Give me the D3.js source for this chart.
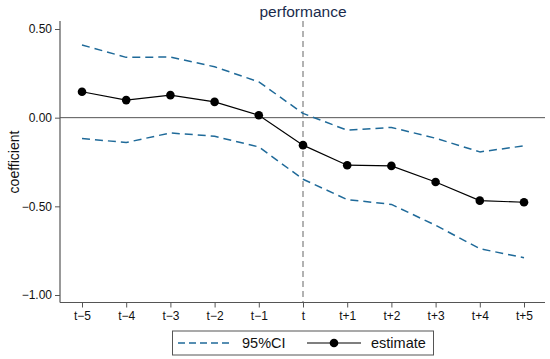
<!DOCTYPE html>
<html><head><meta charset="utf-8">
<script src="https://cdn.jsdelivr.net/npm/d3@7"></script>
<style>body{margin:0;background:#fff}svg{display:block}text{font-family:Arial,"Liberation Sans",sans-serif}</style>
</head><body><svg id="c" width="550" height="359"></svg>
<script>
const categories = ["t\u22125","t\u22124","t\u22123","t\u22122","t\u22121","t","t+1","t+2","t+3","t+4","t+5"];
const estimate = [0.146,0.099,0.127,0.089,0.014,-0.155,-0.268,-0.272,-0.363,-0.468,-0.477];
const upperCI = [0.410,0.340,0.342,0.287,0.202,0.024,-0.071,-0.055,-0.116,-0.193,-0.159];
const lowerCI = [-0.118,-0.140,-0.086,-0.105,-0.165,-0.347,-0.462,-0.489,-0.607,-0.739,-0.790];
const yTicks = [0.5,0,-0.5,-1];
const yTickLabels = ["0.50","0.00","\u22120.50","\u22121.00"];

const svg = d3.select("#c");
const L=60,R=545,T=21,B=302.5;
const x = d3.scalePoint().domain(categories).range([82,524]);
const y = d3.scaleLinear().domain([-1,0.5]).range([295,29]);

svg.append("line").attr("x1",L).attr("x2",R).attr("y1",y(0)).attr("y2",y(0)).attr("stroke","#555").attr("stroke-width",1);
svg.append("line").attr("x1",x("t")).attr("x2",x("t")).attr("y1",T).attr("y2",B).attr("stroke","#999").attr("stroke-width",1.5).attr("stroke-dasharray","6,4");

const line = d3.line().x((d,i)=>x(categories[i])).y(d=>y(d)).curve(d3.curveLinear);
[upperCI,lowerCI].forEach(s=>{
  svg.append("path").attr("d",line(s)).attr("fill","none").attr("stroke","#1f6a99").attr("stroke-width",1.5).attr("stroke-dasharray","8,5").attr("stroke-linejoin","round");
});
svg.append("path").attr("d",line(estimate)).attr("fill","none").attr("stroke","#000").attr("stroke-width",1.2);
svg.selectAll("circle.e").data(estimate).enter().append("circle").attr("class","e")
  .attr("cx",(d,i)=>x(categories[i])).attr("cy",d=>y(d)).attr("r",4.3).attr("fill","#000");

const ya = svg.append("g").attr("transform",`translate(${L},0)`)
  .call(d3.axisLeft(y).tickValues(yTicks).tickFormat((d,i)=>yTickLabels[i]).tickSize(5).tickPadding(3));
ya.select(".domain").attr("d",`M0,${T}V${B}`).attr("stroke","#555").attr("stroke-width",1.2);
ya.selectAll(".tick line").attr("stroke","#555");
ya.selectAll("text").attr("font-size",12).attr("fill","#111");
const xa = svg.append("g").attr("transform",`translate(0,${B})`)
  .call(d3.axisBottom(x).tickSize(5).tickPadding(4));
xa.select(".domain").attr("d",`M${L},0H${R}`).attr("stroke","#555").attr("stroke-width",1.2);
xa.selectAll(".tick line").attr("stroke","#555");
xa.selectAll("text").attr("font-size",12).attr("fill","#111");

svg.append("text").attr("x",x("t")).attr("y",17).attr("text-anchor","middle").attr("font-size",15.5).attr("fill","#1a2b4c").text("performance");
svg.append("text").attr("transform","translate(19,162) rotate(-90)").attr("text-anchor","middle").attr("font-size",14).attr("fill","#111").text("coefficient");

const lg = svg.append("g");
lg.append("rect").attr("x",172.5).attr("y",331).attr("width",261).attr("height",24).attr("fill","#fff").attr("stroke","#555").attr("stroke-width",1);
lg.append("line").attr("x1",178).attr("x2",232).attr("y1",343).attr("y2",343).attr("stroke","#1f6a99").attr("stroke-width",1.5).attr("stroke-dasharray","7,4");
lg.append("text").attr("x",242).attr("y",348).attr("font-size",14.5).attr("fill","#111").text("95%CI");
lg.append("line").attr("x1",307).attr("x2",361).attr("y1",343).attr("y2",343).attr("stroke","#000").attr("stroke-width",1.2);
lg.append("circle").attr("cx",334).attr("cy",343).attr("r",4.3).attr("fill","#000");
lg.append("text").attr("x",371).attr("y",348).attr("font-size",14.5).attr("fill","#111").text("estimate");
</script></body></html>
